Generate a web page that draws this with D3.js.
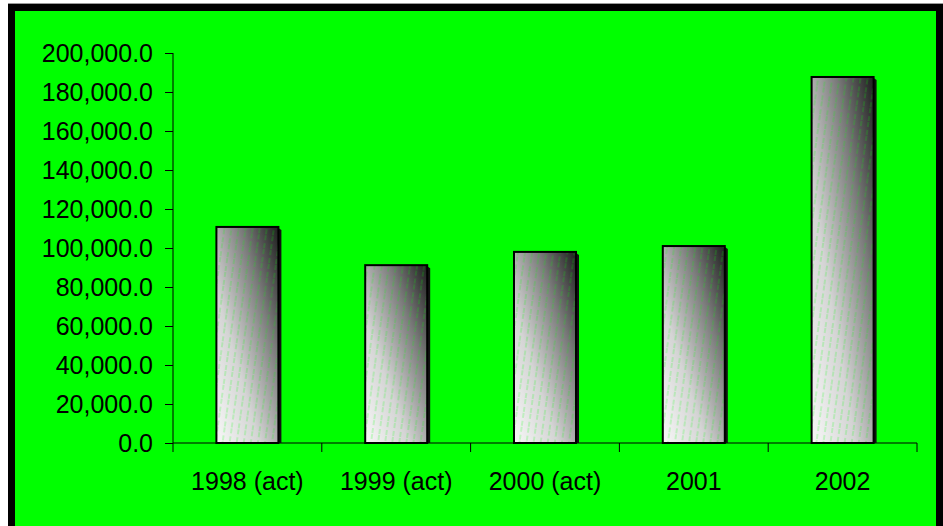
<!DOCTYPE html>
<html><head><meta charset="utf-8">
<script src="https://cdn.jsdelivr.net/npm/d3@7"></script>
<style>html,body{margin:0;padding:0;background:#fff;}svg{display:block;}</style>
</head><body>
<script>
const categories = ["1998 (act)", "1999 (act)", "2000 (act)", "2001", "2002"];
const values = [110800, 91200, 98000, 101000, 187700];
const yTicks = [0, 20000, 40000, 60000, 80000, 100000, 120000, 140000, 160000, 180000, 200000];

const W = 943, H = 526;
const svg = d3.select("body").append("svg").attr("width", W).attr("height", H);
const defs = svg.append("defs");

const grad = defs.append("linearGradient").attr("id", "barGrad")
  .attr("x1", "0").attr("y1", "1").attr("x2", "1").attr("y2", "0");
grad.append("stop").attr("offset", "0%").attr("stop-color", "#f8f8f8");
grad.append("stop").attr("offset", "35%").attr("stop-color", "#d4d4d4");
grad.append("stop").attr("offset", "70%").attr("stop-color", "#7a7a7a");
grad.append("stop").attr("offset", "100%").attr("stop-color", "#1e1e1e");

const pat = defs.append("pattern").attr("id", "stripes").attr("patternUnits", "userSpaceOnUse")
  .attr("width", 7).attr("height", 14).attr("patternTransform", "rotate(8)");
pat.append("line").attr("x1", 2).attr("y1", 0).attr("x2", 2).attr("y2", 14)
  .attr("stroke", "#00ff00").attr("stroke-opacity", 0.35).attr("stroke-width", 1)
  .attr("stroke-dasharray", "5,3");

// frame
svg.append("rect").attr("x", 8).attr("y", 4).attr("width", W - 8).attr("height", H - 4).attr("fill", "#000");
svg.append("line").attr("x1", 8).attr("x2", W).attr("y1", 3.5).attr("y2", 3.5).attr("stroke", "#999");
svg.append("rect").attr("x", 15).attr("y", 11).attr("width", 936 - 15).attr("height", H - 11).attr("fill", "#00ff00");

const x = d3.scaleBand().domain(categories).range([173, 917]).paddingInner(0).paddingOuter(0);
const y = d3.scaleLinear().domain([0, 200000]).range([443, 53]);
const barW = 62;

const font = "'Liberation Sans', Arial, sans-serif";

// y axis
const yAxis = svg.append("g").attr("transform", "translate(173,0)")
  .call(d3.axisLeft(y).tickValues(yTicks).tickSize(8).tickPadding(12).tickFormat(d3.format(",.1f")));
yAxis.select(".domain").attr("stroke", "#000").attr("d", "M0," + y(200000) + "V" + y(0));
yAxis.selectAll(".tick line").attr("stroke", "#000");
yAxis.selectAll("text").attr("font-family", font).attr("font-size", 25).attr("fill", "#000");

// x axis
const xAxis = svg.append("g").attr("transform", "translate(0,443)")
  .call(d3.axisBottom(x).tickSize(0).tickPadding(0));
xAxis.select(".domain").attr("stroke", "#000").attr("d", "M173,0H917");
xAxis.selectAll(".tick line").remove();
xAxis.selectAll("text").attr("font-family", font).attr("font-size", 25).attr("fill", "#000").attr("dy", null).attr("y", 47);
const bounds = categories.map(c => x(c)).concat([x(categories[categories.length - 1]) + x.bandwidth()]);
svg.append("g").selectAll("line").data(bounds).join("line")
  .attr("x1", d => d).attr("x2", d => d).attr("y1", 443).attr("y2", 452).attr("stroke", "#000");

// bars
const bars = svg.append("g").selectAll("g").data(values).join("g");
bars.append("path")
  .attr("d", (d, i) => {
    const x0 = x(categories[i]) + x.bandwidth() / 2 + barW / 2;
    const t = y(d);
    return `M${x0},${t + 1}L${x0 + 3},${t + 3}L${x0 + 3},${y(0)}L${x0},${y(0)}Z`;
  })
  .attr("fill", "#111");
bars.append("rect")
  .attr("x", (d, i) => x(categories[i]) + x.bandwidth() / 2 - barW / 2)
  .attr("y", d => y(d))
  .attr("width", barW)
  .attr("height", d => y(0) - y(d))
  .attr("fill", "url(#barGrad)");
bars.append("rect")
  .attr("x", (d, i) => x(categories[i]) + x.bandwidth() / 2 - barW / 2)
  .attr("y", d => y(d))
  .attr("width", barW)
  .attr("height", d => y(0) - y(d))
  .attr("fill", "url(#stripes)")
  .attr("stroke", "#000").attr("stroke-width", 2);
</script>
</body></html>
